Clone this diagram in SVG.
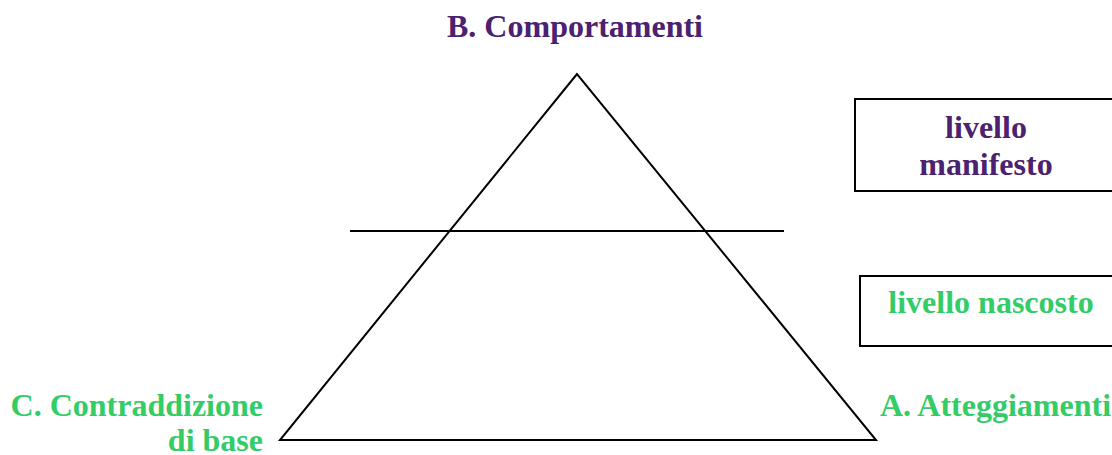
<svg xmlns="http://www.w3.org/2000/svg" width="1112" height="455" viewBox="0 0 1112 455">
<style>
.t{font-family:"Liberation Serif","Times New Roman",serif;font-weight:bold;font-size:32px}
.p{fill:#4B2170}
.g{fill:#33CC66}
.ln{stroke:#000;stroke-width:2;fill:none}
</style>
<rect width="1112" height="455" fill="#fff"/>
<g id="pyramid">
<polygon class="ln" points="577,74 280,440 876,440"/>
</g>
<g id="connectors">
<line class="ln" x1="350" y1="231" x2="784" y2="231"/>
</g>
<g id="top"><text class="t p" x="575" y="37" text-anchor="middle">B. Comportamenti</text></g>
<g id="left"><text class="t g" text-anchor="end"><tspan x="263" y="416">C. Contraddizione</tspan><tspan x="263" y="451">di base</tspan></text></g>
<g id="right"><text class="t g" x="880" y="416">A. Atteggiamenti</text></g>
<g id="manifesto">
<rect class="ln" x="855" y="99" width="270" height="92"/>
<text class="t p" text-anchor="middle"><tspan x="986" y="138">livello</tspan><tspan x="986" y="175">manifesto</tspan></text>
</g>
<g id="nascosto">
<rect class="ln" x="860" y="276" width="270" height="70"/>
<text class="t g" x="991" y="313" text-anchor="middle">livello nascosto</text>
</g>
</svg>
